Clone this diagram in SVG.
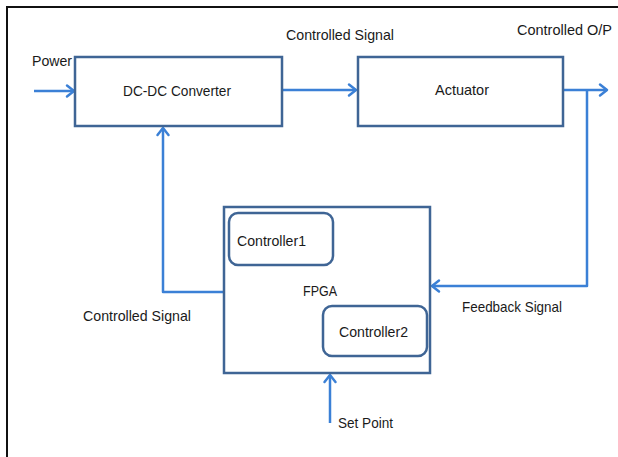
<svg xmlns="http://www.w3.org/2000/svg" width="618" height="457" viewBox="0 0 618 457">
  <style>
    .box { fill: #ffffff; stroke: #3f6595; stroke-width: 2.5; }
    .inner { fill: none; stroke: #3f6595; stroke-width: 2.5; }
    .wire { fill: none; stroke: #3b80d6; stroke-width: 2.5; stroke-linejoin: round; }
    .lbl { font-family: "Liberation Sans", Arial, sans-serif; font-size: 15px; fill: #1a1a1a; }
  </style>
  <defs>
    <marker id="arrow" markerUnits="userSpaceOnUse" viewBox="-10 -8 12 16" refX="0" refY="0" markerWidth="12" markerHeight="16" orient="auto" overflow="visible">
      <path d="M -7 -5.5 L 0 0 L -7 5.5" fill="none" stroke="#3b80d6" stroke-width="2.5" stroke-linecap="round" stroke-linejoin="round"/>
    </marker>
  </defs>

  <rect width="618" height="457" fill="#ffffff"/>
  <!-- page frame -->
  <rect x="7" y="7" width="700" height="500" fill="none" stroke="#111111" stroke-width="2"/>

  <!-- connectors -->
  <g id="connectors">
    <path class="wire" d="M 34 91 L 74 91" marker-end="url(#arrow)"/>
    <path class="wire" d="M 282 90 L 356 90" marker-end="url(#arrow)"/>
    <path class="wire" d="M 563 90 L 607 90" marker-end="url(#arrow)"/>
    <path class="wire" d="M 587 90 L 587 286 L 432 286" marker-end="url(#arrow)"/>
    <path class="wire" d="M 224 292 L 163 292 L 163 128" marker-end="url(#arrow)"/>
    <path class="wire" d="M 330 423 L 330 375" marker-end="url(#arrow)"/>
  </g>

  <g id="dcdc">
    <rect class="box" x="75" y="57" width="207" height="69"/>
    <text class="lbl" x="123" y="96" textLength="108" lengthAdjust="spacingAndGlyphs">DC-DC Converter</text>
  </g>

  <g id="actuator">
    <rect class="box" x="358" y="57" width="205" height="69"/>
    <text class="lbl" x="435" y="95" textLength="54" lengthAdjust="spacingAndGlyphs">Actuator</text>
  </g>

  <g id="fpga">
    <rect class="box" x="224" y="207" width="206" height="166"/>
    <text class="lbl" x="303" y="296" textLength="34" lengthAdjust="spacingAndGlyphs">FPGA</text>
  </g>

  <g id="controller1">
    <rect class="inner" x="229" y="213" width="104" height="52" rx="9"/>
    <text class="lbl" x="237" y="246" textLength="69" lengthAdjust="spacingAndGlyphs">Controller1</text>
  </g>

  <g id="controller2">
    <rect class="inner" x="323" y="306" width="104" height="50" rx="9"/>
    <text class="lbl" x="339" y="337" textLength="69" lengthAdjust="spacingAndGlyphs">Controller2</text>
  </g>

  <g id="labels">
    <text class="lbl" x="32" y="66" textLength="40" lengthAdjust="spacingAndGlyphs">Power</text>
    <text class="lbl" x="286" y="40" textLength="108" lengthAdjust="spacingAndGlyphs">Controlled  Signal</text>
    <text class="lbl" x="517" y="35" textLength="95" lengthAdjust="spacingAndGlyphs">Controlled  O/P</text>
    <text class="lbl" x="462" y="312" textLength="100" lengthAdjust="spacingAndGlyphs">Feedback Signal</text>
    <text class="lbl" x="83" y="321" textLength="108" lengthAdjust="spacingAndGlyphs">Controlled  Signal</text>
    <text class="lbl" x="338" y="428" textLength="55" lengthAdjust="spacingAndGlyphs">Set Point</text>
  </g>
</svg>
